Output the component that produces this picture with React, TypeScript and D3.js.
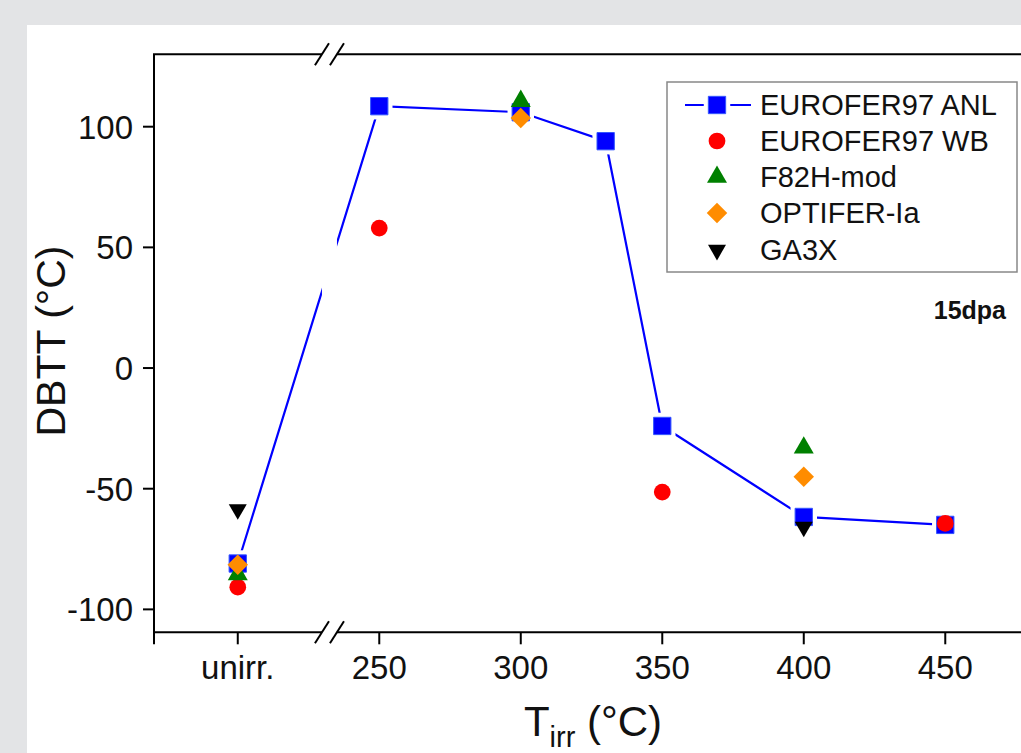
import React from "react";
import * as d3 from "d3";

// ---- data ----
const xTickValues = [200, 250, 300, 350, 400, 450];
const xTickLabels = ["unirr.", "250", "300", "350", "400", "450"];
const yTickValues = [-100, -50, 0, 50, 100];

const anlX = [200, 250, 300, 330, 350, 400, 450];
const anlY = [-81, 108.5, 106, 94, -24, -61.7, -65];

const wbX = [200, 250, 350, 450];
const wbY = [-90.8, 58, -51.4, -64.4];

const f82X = [200, 300, 400];
const f82Y = [-85.5, 110.6, -33];

const optX = [200, 300, 400];
const optY = [-81.5, 103.6, -45];

const ga3xX = [200, 400];
const ga3xY = [-58.6, -65.8];

const legendLabels = ["EUROFER97 ANL", "EUROFER97 WB", "F82H-mod", "OPTIFER-Ia", "GA3X"];
const breakValue = 232.4;

const W = 1021;
const H = 753;
const FONT = "'Liberation Sans', Arial, Helvetica, sans-serif";

export default function App() {
  const x = d3.scaleLinear().domain([170.4, 482]).range([154, 154 + (482 - 170.4) * 2.83]);
  const y = d3.scaleLinear().domain([-109.5, 130]).range([632.3, 54.3]);

  const x0 = x.range()[0];
  const yTop = y.range()[1];
  const yBot = y.range()[0];

  const sq = d3.symbol().type(d3.symbolSquare).size(300)()!;
  const halo = d3.symbol().type(d3.symbolSquare).size(700)()!;
  const circ = d3.symbol().type(d3.symbolCircle).size(220)()!;
  const tri = d3.symbol().type(d3.symbolTriangle).size(173)()!;
  const dia = d3.symbol().type(d3.symbolSquare).size(210)()!;
  const dtri = d3.symbol().type(d3.symbolTriangle).size(140)()!;

  const line = d3
    .line<number>()
    .x((_, i) => x(anlX[i]))
    .y((d) => y(d));

  const bx = x(breakValue);
  const bOff = 7.5;

  const slash = (cx: number, cy: number) => (
    <line x1={cx - 7} y1={cy + 11} x2={cx + 7} y2={cy - 11} stroke="#000" strokeWidth={2} />
  );

  const legendRows = [105, 141, 177, 213, 250];
  const legX = 717;

  return (
    <svg
      width={W}
      height={H}
      style={{ position: "fixed", left: 0, top: 0, display: "block", fontFamily: FONT }}
    >
      <rect x={0} y={0} width={W} height={H} fill="#e3e4e6" />
      <rect x={27} y={25} width={W - 27} height={H - 25} fill="#fff" />

      {/* ANL line */}
      <path d={line(anlY)!} fill="none" stroke="#0000ff" strokeWidth={2.2} />
      {/* break gap in data line */}
      <rect x={bx - bOff} y={yTop + 2} width={2 * bOff} height={yBot - yTop - 4} fill="#fff" />
      {/* line gaps around squares */}
      {anlX.map((v, i) => (
        <path key={"h" + i} d={halo} transform={`translate(${x(v)},${y(anlY[i])})`} fill="#fff" />
      ))}

      {/* markers */}
      {anlX.map((v, i) => (
        <path key={"a" + i} d={sq} transform={`translate(${x(v)},${y(anlY[i])})`} fill="#0000ff" stroke="#3355ff" strokeWidth={1} />
      ))}
      {wbX.map((v, i) => (
        <path key={"w" + i} d={circ} transform={`translate(${x(v)},${y(wbY[i])})`} fill="#ff0000" />
      ))}
      {f82X.map((v, i) => (
        <path key={"f" + i} d={tri} transform={`translate(${x(v)},${y(f82Y[i])})`} fill="#008000" />
      ))}
      {optX.map((v, i) => (
        <path key={"o" + i} d={dia} transform={`translate(${x(v)},${y(optY[i])}) rotate(45)`} fill="#ff8c00" />
      ))}
      {ga3xX.map((v, i) => (
        <path key={"g" + i} d={dtri} transform={`translate(${x(v)},${y(ga3xY[i])}) rotate(180)`} fill="#000" />
      ))}

      {/* frame: left axis */}
      <line x1={x0} y1={yTop} x2={x0} y2={yBot + 12} stroke="#000" strokeWidth={2} />
      {/* top axis with break */}
      <line x1={x0 - 1} y1={yTop} x2={bx - bOff} y2={yTop} stroke="#000" strokeWidth={2} />
      <line x1={bx + bOff} y1={yTop} x2={W + 5} y2={yTop} stroke="#000" strokeWidth={2} />
      {slash(bx - bOff, yTop)}
      {slash(bx + bOff, yTop)}
      {/* bottom axis with break */}
      <line x1={x0 - 1} y1={yBot} x2={bx - bOff} y2={yBot} stroke="#000" strokeWidth={2} />
      <line x1={bx + bOff} y1={yBot} x2={W + 5} y2={yBot} stroke="#000" strokeWidth={2} />
      {slash(bx - bOff, yBot)}
      {slash(bx + bOff, yBot)}

      {/* y ticks */}
      {yTickValues.map((v) => (
        <g key={"yt" + v}>
          <line x1={x0 - 11} x2={x0} y1={y(v)} y2={y(v)} stroke="#000" strokeWidth={2} />
          <text x={x0 - 21} y={y(v) + 12} textAnchor="end" fontSize={33} fill="#111">
            {v}
          </text>
        </g>
      ))}

      {/* x ticks */}
      {xTickValues.map((v, i) => (
        <g key={"xt" + v}>
          <line x1={x(v)} x2={x(v)} y1={yBot} y2={yBot + 12} stroke="#000" strokeWidth={2} />
          <text x={x(v)} y={679} textAnchor="middle" fontSize={33} fill="#111">
            {xTickLabels[i]}
          </text>
        </g>
      ))}

      {/* axis titles */}
      <text x={593} y={736} textAnchor="middle" fontSize={42} fill="#111">
        T<tspan fontSize={29} dy={11}>irr</tspan>
        <tspan dy={-11}> (°C)</tspan>
      </text>
      <text transform="translate(65,341) rotate(-90)" textAnchor="middle" fontSize={41} fill="#111">
        DBTT (°C)
      </text>

      <text x={1006} y={319} textAnchor="end" fontSize={25} fontWeight="bold" fill="#111">
        15dpa
      </text>

      {/* legend */}
      <rect x={667} y={82} width={350} height={190} fill="#fff" stroke="#888" strokeWidth={1.5} />
      <line x1={685} x2={751} y1={legendRows[0]} y2={legendRows[0]} stroke="#0000ff" strokeWidth={2.2} />
      <path d={halo} transform={`translate(${legX},${legendRows[0]})`} fill="#fff" />
      <path d={sq} transform={`translate(${legX},${legendRows[0]})`} fill="#0000ff" stroke="#3355ff" strokeWidth={1} />
      <path d={circ} transform={`translate(${legX},${legendRows[1]})`} fill="#ff0000" />
      <path d={tri} transform={`translate(${legX},${legendRows[2]})`} fill="#008000" />
      <path d={dia} transform={`translate(${legX},${legendRows[3]}) rotate(45)`} fill="#ff8c00" />
      <path d={dtri} transform={`translate(${legX},${legendRows[4]}) rotate(180)`} fill="#000" />
      {legendLabels.map((t, i) => (
        <text key={t} x={760} y={legendRows[i] + 10} fontSize={29} fill="#111">
          {t}
        </text>
      ))}
    </svg>
  );
}
